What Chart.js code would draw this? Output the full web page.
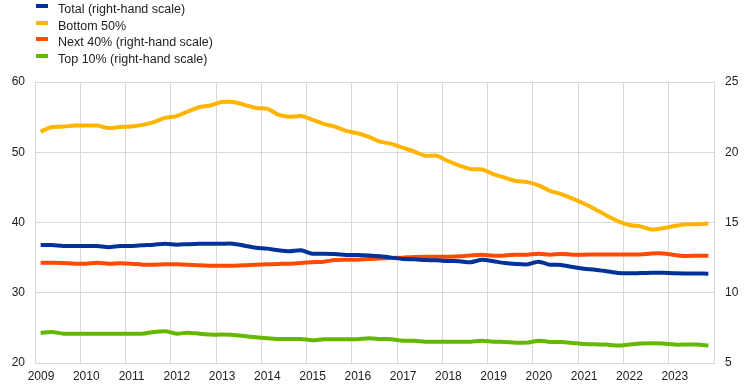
<!DOCTYPE html>
<html>
<head>
<meta charset="utf-8">
<script src="https://cdn.jsdelivr.net/npm/chart.js@4.4.1/dist/chart.umd.min.js"></script>
<style>
  html, body { margin: 0; padding: 0; background: #fff; }
  #wrap { position: relative; width: 744px; height: 390px; }
  #legend { position: absolute; left: 36px; top: 1px; font-family: Arial, "Liberation Sans", sans-serif; font-size: 12.5px; color: #222; }
  .item { position: relative; height: 16.7px; line-height: 16.7px; padding-left: 22px; white-space: nowrap; }
  .swatch { position: absolute; left: 0; top: 3px; width: 12px; height: 4px; }
</style>
</head>
<body>
<div id="wrap">
  <canvas id="c" width="744" height="390"></canvas>
  <div id="legend"></div>
</div>
<script>
const years = [2009,2010,2011,2012,2013,2014,2015,2016,2017,2018,2019,2020,2021,2022,2023];
const quarters = [];
years.forEach(y => { for (let q = 1; q <= 4; q++) quarters.push(y + 'Q' + q); });

const seriesNames = ['Total (right-hand scale)', 'Bottom 50%', 'Next 40% (right-hand scale)', 'Top 10% (right-hand scale)'];

const total = [13.40,13.40,13.33,13.33,13.33,13.33,13.24,13.33,13.33,13.38,13.42,13.49,13.42,13.46,13.49,13.49,
  13.49,13.49,13.35,13.21,13.14,13.02,12.95,13.02,12.78,12.78,12.76,12.69,12.69,12.65,
  12.59,12.50,12.40,12.38,12.33,12.31,12.26,12.24,12.17,12.35,12.24,12.12,12.05,12.02,12.21,12.00,
  11.98,11.83,11.71,11.64,11.53,11.41,11.38,11.40,11.42,11.42,11.38,11.37,11.37,11.36];

const bottom50 = [52.95,53.6,53.65,53.8,53.8,53.8,53.45,53.6,53.65,53.9,54.3,54.9,55.15,55.8,56.4,56.65,
  57.15,57.15,56.75,56.3,56.2,55.35,55.05,55.15,54.65,54.05,53.65,53.05,52.7,52.2,
  51.5,51.2,50.65,50.1,49.5,49.5,48.75,48.1,47.6,47.55,46.9,46.4,45.9,45.75,45.3,44.5,
  44.05,43.4,42.7,41.9,41.0,40.2,39.65,39.45,39.0,39.2,39.5,39.75,39.75,39.85];

const next40 = [12.14,12.14,12.12,12.07,12.07,12.14,12.07,12.10,12.07,12.00,12.00,12.02,12.02,12.00,11.95,11.93,
  11.93,11.93,11.95,12.00,12.02,12.05,12.07,12.12,12.17,12.21,12.33,12.35,12.35,12.40,
  12.43,12.47,12.50,12.55,12.57,12.57,12.57,12.59,12.66,12.71,12.64,12.66,12.71,12.71,12.78,12.71,
  12.76,12.71,12.71,12.73,12.73,12.73,12.73,12.73,12.80,12.80,12.69,12.62,12.64,12.64];

const top10 = [7.14,7.21,7.09,7.09,7.09,7.09,7.09,7.09,7.09,7.09,7.21,7.26,7.09,7.16,7.09,7.02,
  7.02,7.00,6.92,6.83,6.76,6.71,6.71,6.71,6.62,6.69,6.69,6.69,6.69,6.76,
  6.71,6.69,6.59,6.59,6.52,6.52,6.52,6.52,6.52,6.59,6.52,6.50,6.45,6.45,6.59,6.50,
  6.50,6.43,6.35,6.33,6.31,6.24,6.31,6.38,6.40,6.38,6.31,6.31,6.31,6.24];

const xTicksMin = 2009, xTicksMax = 2024;
const leftTicks = [20, 30, 40, 50, 60];
const rightTicks = [5, 10, 15, 20, 25];

const colors = ['#003299', '#ffb400', '#ff4b00', '#65b800'];

function toXY(values) {
  return values.map((v, i) => {
    const q = quarters[i];
    const yr = parseInt(q.slice(0, 4), 10);
    const qn = parseInt(q.slice(5), 10);
    return { x: yr + (qn - 0.5) / 4, y: v };
  });
}

const seriesValues = [total, bottom50, next40, top10];
const axesFor = ['y1', 'y', 'y1', 'y1'];

const datasets = seriesValues.map((vals, i) => ({
  label: seriesNames[i],
  data: toXY(vals),
  borderColor: colors[i],
  backgroundColor: colors[i],
  borderWidth: 4,
  pointRadius: 0,
  tension: 0.25,
  yAxisID: axesFor[i],
  order: [2, 1, 3, 4][i]
}));

const font = { family: 'Arial, "Liberation Sans", sans-serif', size: 12 };
const grid = '#d9d9d9';

new Chart(document.getElementById('c'), {
  type: 'line',
  data: { datasets },
  options: {
    responsive: false,
    animation: false,
    layout: { padding: { top: 82, left: 0, right: 0, bottom: 0 } },
    plugins: { legend: { display: false }, tooltip: { enabled: false } },
    scales: {
      x: {
        type: 'linear',
        min: xTicksMin, max: xTicksMax,
        afterFit: s => { s.height = 27; },
        afterBuildTicks: s => { s.ticks = years.concat([xTicksMax]).map(v => ({ value: v })); },
        ticks: {
          stepSize: 1, autoSkip: false, maxRotation: 0, padding: 6, labelOffset: 6,
          color: '#222', font,
          callback: v => (v === xTicksMax ? '' : String(v))
        },
        grid: { color: grid, drawTicks: false, lineWidth: 1 },
        border: { color: grid }
      },
      y: {
        position: 'left',
        min: 20, max: 60,
        afterFit: s => { s.width = 35; },
        afterBuildTicks: s => { s.ticks = leftTicks.map(v => ({ value: v })); },
        ticks: { color: '#222', font, padding: 10 },
        grid: { color: grid, drawTicks: false, lineWidth: 1 },
        border: { color: grid }
      },
      y1: {
        position: 'right',
        min: 5, max: 25,
        afterFit: s => { s.width = 30; },
        afterBuildTicks: s => { s.ticks = rightTicks.map(v => ({ value: v })); },
        ticks: { color: '#222', font, padding: 11 },
        grid: { drawOnChartArea: false, drawTicks: false },
        border: { color: grid }
      }
    }
  }
});

const legend = document.getElementById('legend');
seriesNames.forEach((name, i) => {
  const d = document.createElement('div');
  d.className = 'item';
  const sw = document.createElement('span');
  sw.className = 'swatch';
  sw.style.background = colors[i];
  d.appendChild(sw);
  d.appendChild(document.createTextNode(name));
  legend.appendChild(d);
});
</script>
</body>
</html>
